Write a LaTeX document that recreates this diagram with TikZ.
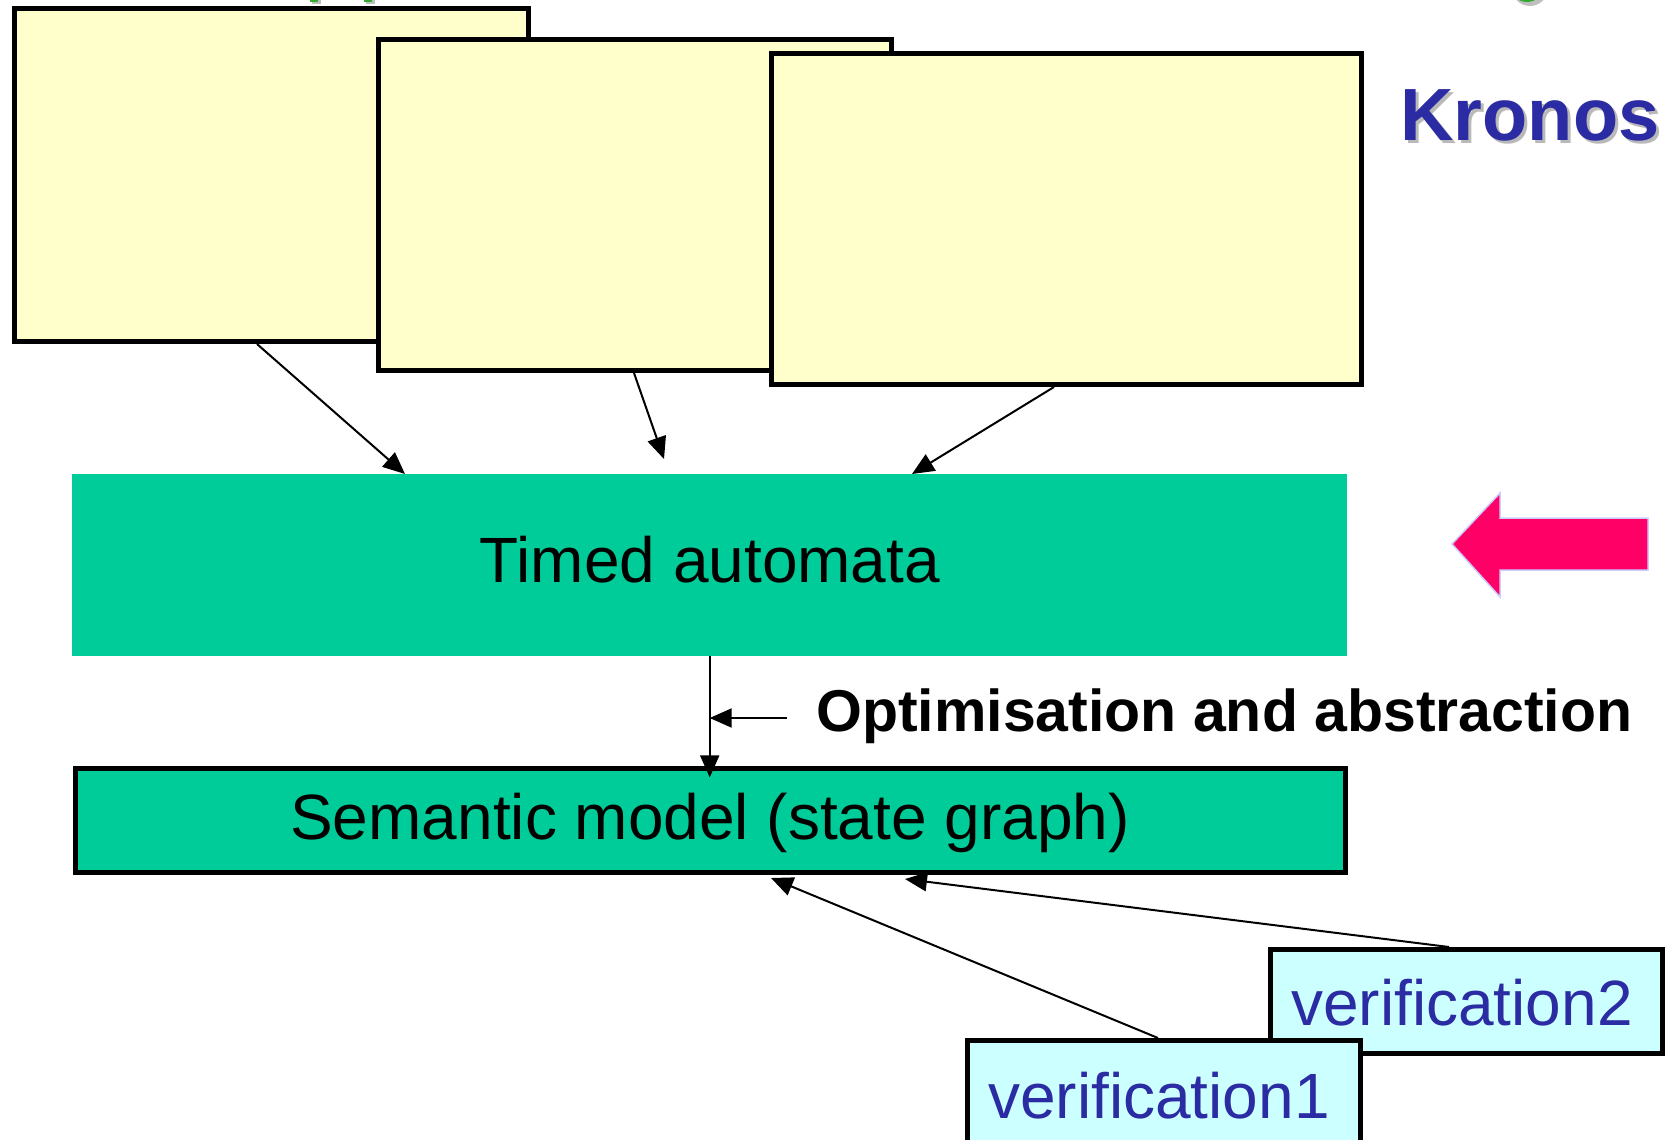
\documentclass[tikz,border=0pt]{standalone}
\usepackage{fontspec}
\setmainfont{Liberation Sans}
\usetikzlibrary{arrows.meta}
\definecolor{boxyellow}{HTML}{FFFFCC}
\definecolor{boxgreen}{HTML}{00CC99}
\definecolor{boxcyan}{HTML}{CCFFFF}
\definecolor{textblue}{HTML}{2B2BA3}
\definecolor{arrowpink}{HTML}{FF0066}
\definecolor{arrowedge}{HTML}{CCCCFF}
\definecolor{leafgreen}{HTML}{33AA33}
\begin{document}
\begin{tikzpicture}[x=1pt,y=-1pt,
  yellowbox/.style={draw=black, line width=5pt, fill=boxyellow, anchor=north west, inner sep=0pt},
  greenbox/.style={fill=boxgreen, anchor=north west, inner sep=0pt},
  cyanbox/.style={draw=black, line width=5pt, fill=boxcyan, anchor=north west, inner sep=0pt},
  bigtext/.style={font=\fontsize{64}{70}\selectfont, inner sep=0pt},
  bluetext/.style={bigtext, text=textblue},
  arr/.style={draw=black, line width=2pt, -{Triangle[length=22pt,width=19pt]}},
  boldlabel/.style={font=\bfseries\fontsize{59}{64}\selectfont, inner sep=0pt, anchor=west}
]
\useasboundingbox (0,0) rectangle (1673,1140);
\begin{scope}
\clip (0,0) rectangle (1673,1140);
% cut-off fragments at top edge
\fill[gray!50] (312,-4) rectangle (321,4);
\fill[leafgreen] (310,-4) rectangle (318,2);
\fill[gray!50] (366,-4) rectangle (375,4);
\fill[leafgreen] (364,-4) rectangle (372,2);
\fill[gray!50] (1530,-12) circle (18);
\fill[leafgreen] (1527,-15) circle (17);

% yellow source boxes
\node[yellowbox, minimum width=514pt, minimum height=333pt] (b1) at (12,6) {};
\node[yellowbox, minimum width=513pt, minimum height=331pt] (b2) at (376,37) {};
\node[yellowbox, minimum width=590pt, minimum height=331pt] (b3) at (769,51) {};

% Kronos title with shadow
\node[font=\bfseries\fontsize{74}{80}\selectfont, text=gray!55] at (1533,118) {Kronos};
\node[font=\bfseries\fontsize{74}{80}\selectfont, text=textblue] (kronos) at (1530,115) {Kronos};

% timed automata
\node[greenbox, minimum width=1275pt, minimum height=182pt] (ta) at (72,474) {};
\node[bigtext] (tatext) at (710,560) {Timed automata};

% semantic model
\node[greenbox, draw=black, line width=5pt, minimum width=1270pt, minimum height=104pt] (sm) at (73,766) {};
\node[bigtext] (smtext) at (710,823) {Semantic model (state graph)};

% verification boxes
\node[cyanbox, minimum width=392pt, minimum height=104pt] (v2) at (1268,947) {};
\node[bluetext] (v2text) at (1462,1003) {verification2};
\node[cyanbox, minimum width=393pt, minimum height=112pt] (v1) at (965,1038) {};
\node[bluetext] (v1text) at (1159,1096) {verification1};

% arrows from yellow boxes
\draw[arr] ([xshift=245pt]b1.south west) -- ([xshift=333pt]ta.north west);
\draw[arr] ([xshift=258pt]b2.south west) -- ([xshift=592pt,yshift=15pt]ta.north west);
\draw[arr] ([xshift=285pt]b3.south west) -- ([xshift=840pt]ta.north west);

% automata to semantic model
\draw[arr] (ta.south) -- ++(0,121);

% optimisation label
\node[boldlabel] (opt) at (816,716) {Optimisation and abstraction};
\coordinate (lstart) at (787,718);
\draw[arr] (lstart) -- (lstart -| ta.south);

% verification arrows
\draw[arr] ([xshift=181pt]v2.north west) -- ([xshift=832pt,yshift=-4pt]sm.south west);
\draw[arr] ([xshift=193pt]v1.north west) -- ([xshift=698pt,yshift=-3pt]sm.south west);

% pink arrow
\draw[fill=arrowpink, draw=arrowedge, line width=1.5pt, line join=miter]
  (1452,544) -- (1500,493) -- (1500,518) -- (1648,518) -- (1648,570) -- (1500,570) -- (1500,597) -- cycle;
\end{scope}
\end{tikzpicture}
\end{document}
